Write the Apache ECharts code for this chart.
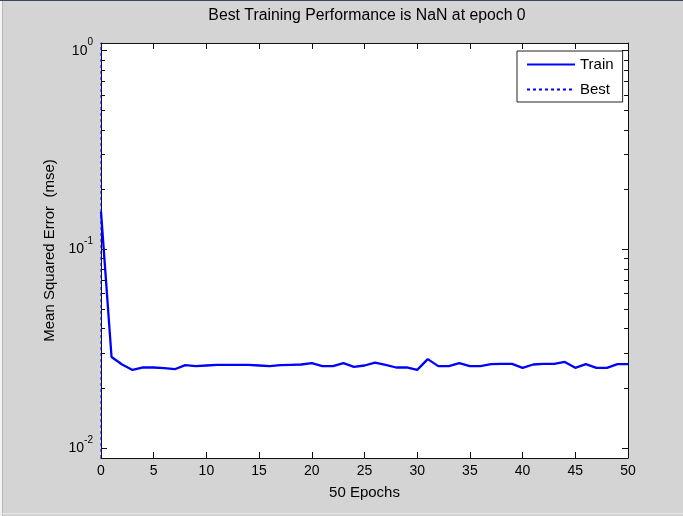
<!DOCTYPE html>
<html>
<head>
<meta charset="utf-8">
<script src="https://cdn.jsdelivr.net/npm/echarts@6/dist/echarts.min.js"></script>
<style>
  html, body { margin: 0; padding: 0; background: #d4d4d4; }
  #chart { width: 683px; height: 516px; }
</style>
</head>
<body>
<div id="chart"></div>
<script>
// training record, one value per epoch
const epochs = [0, 1, 2, 3, 4, 5, 6, 7, 8, 9, 10, 11, 12, 13, 14, 15, 16, 17, 18, 19, 20,
  21, 22, 23, 24, 25, 26, 27, 28, 29, 30, 31, 32, 33, 34, 35, 36, 37, 38, 39, 40,
  41, 42, 43, 44, 45, 46, 47, 48, 49, 50];
const trainPerf = [0.155, 0.0288, 0.0264, 0.0248, 0.0255, 0.0255, 0.0253, 0.0250, 0.0262, 0.0259, 0.0261,
  0.0263, 0.0263, 0.0263, 0.0263, 0.0261, 0.0259, 0.0262, 0.0263, 0.0264, 0.0268,
  0.0259, 0.0259, 0.0268, 0.0257, 0.0261, 0.0270, 0.0263, 0.0255, 0.0255, 0.0248,
  0.0281, 0.0259, 0.0259, 0.0268, 0.0259, 0.0259, 0.0265, 0.0266, 0.0266, 0.0254,
  0.0264, 0.0266, 0.0266, 0.0272, 0.0254, 0.0265, 0.0254, 0.0254, 0.0265, 0.0265];
const bestEpoch = 0;
const yRange = [0.00894, 1.093];
const xTicks = [0, 5, 10, 15, 20, 25, 30, 35, 40, 45, 50];
const yMajor = [0.01, 0.1, 1];
const yMinor = [0.02, 0.03, 0.04, 0.05, 0.06, 0.07, 0.08, 0.09,
  0.2, 0.3, 0.4, 0.5, 0.6, 0.7, 0.8, 0.9];

const chart = echarts.init(document.getElementById("chart"));
const font = "Liberation Sans, Arial, sans-serif";
const axisColor = "#111";
const blue = "#0000ff";

function logAxis(pos, ticks, len, showLine, extra) {
  return Object.assign({
    type: "log",
    logBase: 10,
    position: pos,
    min: yRange[0],
    max: yRange[1],
    axisLine: { show: showLine, lineStyle: { color: axisColor, width: 1 } },
    axisTick: { show: true, inside: true, length: len, customValues: ticks, lineStyle: { color: axisColor } },
    axisLabel: { show: false },
    splitLine: { show: false },
  }, extra || {});
}

function xValAxis(pos, showLabel, extra) {
  return Object.assign({
    type: "value",
    position: pos,
    min: xTicks[0],
    max: xTicks[xTicks.length - 1],
    interval: 5,
    axisLine: { show: true, lineStyle: { color: axisColor, width: 1 } },
    axisTick: { show: true, inside: true, length: 6, lineStyle: { color: axisColor } },
    axisLabel: { show: showLabel, color: "#000", fontSize: 14, fontFamily: font, margin: 6 },
    splitLine: { show: false },
  }, extra || {});
}

let option = {
  backgroundColor: "#d4d4d4",
  animation: false,
  textStyle: { fontFamily: font },
  title: {
    text: "Best Training Performance is NaN at epoch 0",
    left: 362,
    textAlign: "center",
    top: 3,
    textStyle: { color: "#000", fontSize: 15.8, fontWeight: "normal", fontFamily: font },
  },
  grid: {
    left: 101,
    right: 55,
    top: 43,
    bottom: 58,
    show: true,
    backgroundColor: "#fff",
    borderWidth: 0,
  },
  legend: {
    orient: "vertical",
    left: 517,
    top: 51,
    padding: [6, 9, 5, 9],
    itemGap: 10,
    itemWidth: 48,
    itemHeight: 14,
    backgroundColor: "#fff",
    borderColor: "#222",
    borderWidth: 1,
    borderRadius: 0,
    itemStyle: { opacity: 0 },
    textStyle: { color: "#000", fontSize: 15, fontFamily: font },
    data: ["Train", "Best"],
  },
  graphic: [
    // window frame edges
    { type: "rect", shape: { x: 0, y: 0, width: 683, height: 1 }, style: { fill: "#3a4560" }, silent: true },
    { type: "rect", shape: { x: 0, y: 1, width: 2, height: 515 }, style: { fill: "#f4f4f4" }, silent: true },
    { type: "rect", shape: { x: 2, y: 1, width: 1, height: 515 }, style: { fill: "#b8b8b8" }, silent: true },
    { type: "rect", shape: { x: 0, y: 513, width: 683, height: 1 }, style: { fill: "#e8e4e0" }, silent: true },
  ],
  xAxis: [
    xValAxis("bottom", true, {
      name: "50 Epochs",
      nameLocation: "middle",
      nameGap: 27,
      nameTextStyle: { color: "#000", fontSize: 15, fontFamily: font },
    }),
    xValAxis("top", false),
  ],
  yAxis: [
    logAxis("left", yMajor, 6, true, {
      name: "Mean Squared Error  (mse)",
      nameLocation: "middle",
      nameGap: 40,
      nameTextStyle: { color: "#000", fontSize: 15, fontFamily: font },
      axisLabel: {
        show: true,
        customValues: yMajor,
        margin: 8,
        formatter: function (v) {
          return "{b|10}{s|" + Math.round(Math.log10(v)) + "}";
        },
        rich: {
          b: { fontSize: 14, color: "#000", fontFamily: font },
          s: { fontSize: 10, color: "#000", fontFamily: font, padding: [0, 0, 16, 0] },
        },
      },
    }),
    logAxis("left", yMinor, 4, false),
    logAxis("right", yMajor, 6, true),
    logAxis("right", yMinor, 4, false),
  ],
  series: [
    {
      name: "Train",
      type: "line",
      xAxisIndex: 0,
      yAxisIndex: 0,
      symbol: "none",
      z: 3,
      lineStyle: { color: blue, width: 2.3 },
      itemStyle: { color: blue },
      data: epochs.map((e, i) => [e, trainPerf[i]]),
    },
    {
      name: "Best",
      type: "line",
      xAxisIndex: 0,
      yAxisIndex: 0,
      symbol: "none",
      z: 4,
      lineStyle: { color: blue, width: 1, type: [3, 3] },
      itemStyle: { color: blue },
      data: [[bestEpoch, yRange[0]], [bestEpoch, yRange[1]]],
    },
  ],
};

chart.setOption(option);
</script>
</body>
</html>
